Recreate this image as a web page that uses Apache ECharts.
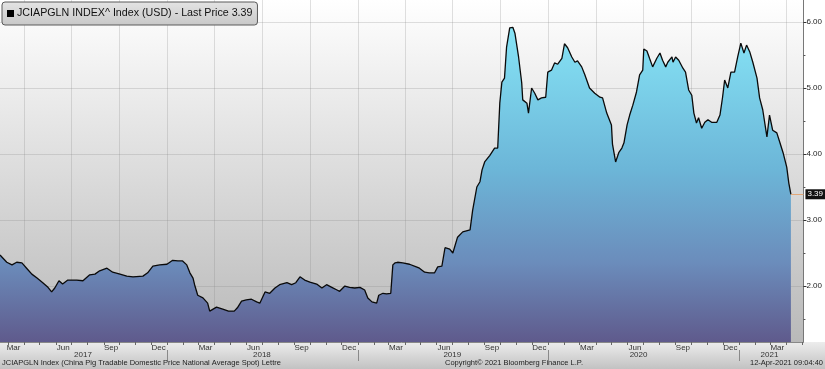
<!DOCTYPE html>
<html><head><meta charset="utf-8">
<script src="https://cdn.jsdelivr.net/npm/echarts@6/dist/echarts.min.js"></script>
<style>html,body{margin:0;padding:0;background:#fff}#c{width:825px;height:369px}</style>
</head><body><div id="c"></div>
<script>
const dates = [
'2017-02-14','2017-02-27','2017-03-09','2017-03-18','2017-03-28','2017-04-06','2017-04-16','2017-04-26','2017-05-07','2017-05-17',
'2017-05-24','2017-05-30','2017-06-07','2017-06-14','2017-06-24','2017-07-11','2017-07-23','2017-08-05','2017-08-15','2017-08-24',
'2017-09-07','2017-09-18','2017-10-02','2017-10-15','2017-10-27','2017-11-15','2017-11-24','2017-12-04','2017-12-17','2017-12-31',
'2018-01-11','2018-01-21','2018-01-30','2018-02-07','2018-02-13','2018-02-19','2018-02-22','2018-02-28','2018-03-10','2018-03-19',
'2018-03-23','2018-04-05','2018-04-17','2018-04-28','2018-05-09','2018-05-15','2018-05-23','2018-06-01','2018-06-11','2018-06-21',
'2018-06-27','2018-07-07','2018-07-16','2018-07-26','2018-08-04','2018-08-18','2018-08-27','2018-09-04','2018-09-12','2018-09-21',
'2018-10-01','2018-10-14','2018-10-24','2018-11-02','2018-11-12','2018-11-22','2018-11-27','2018-12-07','2018-12-16','2018-12-26',
'2019-01-05','2019-01-14','2019-01-20','2019-01-28','2019-02-06','2019-02-10','2019-02-18','2019-02-25','2019-03-05','2019-03-09',
'2019-03-13','2019-03-18','2019-03-28','2019-04-10','2019-04-23','2019-04-29','2019-05-09','2019-05-18','2019-05-28','2019-06-03',
'2019-06-11','2019-06-17','2019-06-26','2019-07-02','2019-07-11','2019-07-21','2019-08-04','2019-08-09','2019-08-17','2019-08-23',
'2019-08-27','2019-09-01','2019-09-11','2019-09-20','2019-09-26','2019-09-30','2019-10-04','2019-10-09','2019-10-13','2019-10-19',
'2019-10-25','2019-10-29','2019-11-01','2019-11-05','2019-11-11','2019-11-13','2019-11-21','2019-11-24','2019-11-30','2019-12-06',
'2019-12-12','2019-12-19','2019-12-27','2019-12-31','2020-01-07','2020-01-13','2020-01-19','2020-01-27','2020-02-01','2020-02-07',
'2020-02-15','2020-02-21','2020-02-26','2020-03-05','2020-03-11','2020-03-20','2020-03-30','2020-04-09','2020-04-14','2020-04-22',
'2020-05-01','2020-05-03','2020-05-09','2020-05-15','2020-05-21','2020-05-25','2020-05-31','2020-06-05','2020-06-11','2020-06-18',
'2020-06-24','2020-06-30','2020-07-02','2020-07-08','2020-07-13','2020-07-19','2020-07-27','2020-08-02','2020-08-07','2020-08-13',
'2020-08-17','2020-08-25','2020-08-27','2020-09-01','2020-09-07','2020-09-15','2020-09-20','2020-09-26','2020-10-02','2020-10-06',
'2020-10-11','2020-10-15','2020-10-21','2020-10-27','2020-11-02','2020-11-09','2020-11-19','2020-11-25','2020-11-30','2020-12-04',
'2020-12-10','2020-12-16','2020-12-23','2020-12-29','2021-01-04','2021-01-10','2021-01-15','2021-01-21','2021-01-27','2021-02-04',
'2021-02-09','2021-02-15','2021-02-23','2021-02-28','2021-03-06','2021-03-14','2021-03-20','2021-03-26','2021-04-02','2021-04-06',
'2021-04-10'
];
const prices = [
2.47,2.36,2.32,2.36,2.35,2.27,2.18,2.12,2.05,1.98,
1.91,1.97,2.08,2.03,2.09,2.09,2.08,2.17,2.18,2.23,
2.27,2.21,2.18,2.15,2.14,2.15,2.20,2.30,2.32,2.33,
2.39,2.38,2.38,2.32,2.20,2.12,2.02,1.86,1.82,1.74,
1.62,1.68,1.65,1.62,1.62,1.67,1.77,1.79,1.80,1.76,
1.74,1.91,1.89,1.97,2.02,2.05,2.02,2.05,2.14,2.09,
2.06,2.03,1.97,2.02,1.98,1.94,1.92,2.00,1.98,1.97,
1.98,1.94,1.82,1.76,1.74,1.86,1.89,1.88,1.89,2.32,
2.35,2.36,2.35,2.33,2.29,2.27,2.21,2.20,2.20,2.29,
2.30,2.58,2.56,2.50,2.74,2.82,2.85,3.15,3.50,3.58,
3.76,3.88,3.98,4.09,4.09,4.77,5.09,5.15,5.62,5.91,
5.92,5.83,5.83,5.47,5.08,4.82,4.77,4.62,5.00,4.92,
4.82,4.85,4.86,5.24,5.27,5.38,5.36,5.45,5.67,5.61,
5.47,5.39,5.41,5.32,5.20,5.00,4.92,4.86,4.85,4.62,
4.44,4.15,3.88,4.02,4.09,4.17,4.44,4.59,4.74,4.94,
5.20,5.27,5.59,5.56,5.45,5.32,5.45,5.53,5.42,5.32,
5.39,5.47,5.39,5.47,5.42,5.30,5.24,4.97,4.89,4.62,
4.47,4.55,4.39,4.48,4.52,4.48,4.48,4.59,4.86,5.12,
5.00,5.24,5.24,5.47,5.68,5.53,5.65,5.55,5.39,5.15,
4.85,4.67,4.26,4.59,4.36,4.32,4.17,4.02,3.80,3.56,
3.39
];
const yLabelValues = [2, 3, 4, 5, 6];
const yMinorTickValues = [1.5, 2.5, 3.5, 4.5, 5.5];
const monthNames = ['Jan','Feb','Mar','Apr','May','Jun','Jul','Aug','Sep','Oct','Nov','Dec'];
const monthLabelDates = ['2017-03-12','2017-06-15','2017-09-15','2017-12-15','2018-03-15','2018-06-15','2018-09-15','2018-12-15',
  '2019-03-15','2019-06-15','2019-09-15','2019-12-15','2020-03-15','2020-06-15','2020-09-15','2020-12-15','2021-03-15'];
const yearLabelDates = ['2017-07-23','2018-07-01','2019-07-01','2020-06-22','2021-02-28'];
const yearSeparatorDates = ['2018-01-01','2019-01-01','2020-01-01','2021-01-01'];
const lastPrice = 3.39;
const legendText = 'JCIAPGLN INDEX^ Index (USD) - Last Price 3.39';
const footerLeft = 'JCIAPGLN Index (China Pig Tradable Domestic Price National Average Spot) Lettre';
const footerMid = 'Copyright\u00a9 2021 Bloomberg Finance L.P.';
const footerRight = '12-Apr-2021 09:04:40';
const xStart = '2017-02-14', xEnd = '2021-05-04';
const yMin = 1.152, yMax = 6.333;

function ts(s){ const p = s.split('-').map(Number); return new Date(p[0], p[1]-1, p[2]).getTime(); }
// month-start ticks and quarter-start grid lines
const monthTicks = [], quarterTicks = [];
for (let y = 2017; y <= 2021; y++) for (let m = 0; m < 12; m++) {
  const t = new Date(y, m, 1).getTime();
  if (t < ts(xStart) || t > ts(xEnd)) continue;
  monthTicks.push(t);
  if (m % 3 === 0) quarterTicks.push(t);
}
const FONT = 'Liberation Sans';
const chart = echarts.init(document.getElementById('c'), null, {renderer: 'canvas'});
const G = (stops) => new echarts.graphic.LinearGradient(0, 0, 0, 1, stops.map((c, i) => ({offset: c[0], color: c[1]})));
const xBase = {type: 'value', min: ts(xStart), max: ts(xEnd), gridIndex: 0, position: 'bottom'};
const gridLine = {color: 'rgba(130,130,130,0.25)', width: 1};
chart.setOption({
  animation: false,
  backgroundColor: G([[0,'#ffffff'],[0.926,'#ffffff'],[0.928,'#ececec'],[1,'#c2c2c2']]),
  grid: {left: 0, right: 21, top: 0, bottom: 27, show: true, borderWidth: 0,
    backgroundColor: G([[0,'#ffffff'],[1,'#b9b9b9']])},
  title: [
    {text: footerLeft, left: 2, top: 359, padding: 0, textStyle: {fontFamily: FONT, fontSize: 7.5, fontWeight: 'normal', color: '#222'}},
    {text: footerMid, left: 445, top: 359, padding: 0, textStyle: {fontFamily: FONT, fontSize: 7.5, fontWeight: 'normal', color: '#222'}},
    {text: footerRight, right: 2, top: 359, padding: 0, textStyle: {fontFamily: FONT, fontSize: 7.5, fontWeight: 'normal', color: '#222'}}
  ],
  legend: {
    data: [{name: legendText, icon: 'rect'}], left: 2, top: 2, itemWidth: 7, itemHeight: 7,
    padding: [6, 5, 6, 5], selectedMode: false,
    backgroundColor: G([[0,'#e4e4e4'],[1,'#c8c8c8']]), borderColor: '#5a5a5a', borderWidth: 1, borderRadius: 3,
    textStyle: {fontFamily: FONT, fontSize: 10.7, color: '#111', padding: [0,0,0,-2]}
  },
  xAxis: [
    Object.assign({}, xBase, {
      axisLine: {show: true, lineStyle: {color: '#888', width: 1}},
      axisTick: {show: true, customValues: monthTicks, length: 3, lineStyle: {color: '#666'}},
      axisLabel: {show: true, customValues: monthLabelDates.map(ts), margin: 2, fontFamily: FONT, fontSize: 8, color: '#333',
        formatter: v => monthNames[new Date(v).getMonth()]},
      splitLine: {show: false}
    }),
    Object.assign({}, xBase, {
      axisLine: {show: false},
      axisTick: {show: false, customValues: quarterTicks},
      axisLabel: {show: false},
      splitLine: {show: true, lineStyle: gridLine}
    }),
    Object.assign({}, xBase, {
      offset: 8,
      axisLine: {show: false},
      axisTick: {show: true, customValues: yearSeparatorDates.map(ts), length: 11, lineStyle: {color: '#8a8a8a'}},
      axisLabel: {show: true, customValues: yearLabelDates.map(ts), margin: 1, fontFamily: FONT, fontSize: 8, color: '#333',
        formatter: v => String(new Date(v).getFullYear())},
      splitLine: {show: false}
    })
  ],
  yAxis: [
    {type: 'value', position: 'right', min: yMin, max: yMax,
      axisLine: {show: true, lineStyle: {color: '#777'}},
      axisTick: {show: true, customValues: yLabelValues, length: 3, lineStyle: {color: '#333'}},
      axisLabel: {show: true, customValues: yLabelValues, margin: 3, fontFamily: FONT, fontSize: 8, color: '#222',
        formatter: v => Number(v).toFixed(2)},
      splitLine: {show: true, lineStyle: gridLine}
    },
    {type: 'value', position: 'right', min: yMin, max: yMax,
      axisLine: {show: false},
      axisTick: {show: true, customValues: yMinorTickValues, length: 2, lineStyle: {color: '#555'}},
      axisLabel: {show: false}, splitLine: {show: false}
    }
  ],
  series: [{
    name: legendText, type: 'line', xAxisIndex: 0, yAxisIndex: 0,
    data: dates.map((d, i) => [ts(d), prices[i]]),
    showSymbol: false, symbol: 'none', clip: false,
    itemStyle: {color: '#000'},
    lineStyle: {color: '#0a0a0a', width: 1.3},
    areaStyle: {color: G([[0,'#86e4f6'],[0.45,'#6cb6d8'],[0.75,'#6b8cbb'],[1,'#5f5a8c']]), opacity: 1},
    markLine: {
      silent: true, symbol: 'none', animation: false,
      lineStyle: {color: '#e2a878', width: 1, type: 'solid'},
      label: {show: true, position: 'end', formatter: lastPrice.toFixed(2), color: '#fff', backgroundColor: '#111',
        fontFamily: FONT, fontSize: 8, padding: [1, 2, 1, 2], distance: 2},
      data: [[{coord: [ts(dates[dates.length-1]), lastPrice]}, {coord: [ts(xEnd), lastPrice]}]]
    }
  }]
});
</script></body></html>
